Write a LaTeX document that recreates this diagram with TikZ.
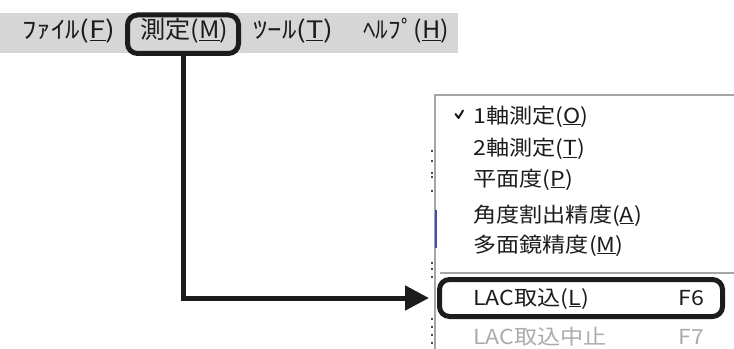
\documentclass[tikz,border=0pt]{standalone}
\usepackage{fontspec}
\newfontfamily\barfont[FakeStretch=1.05]{Noto Sans CJK JP}
\newfontfamily\barkana[FakeStretch=1.2]{Noto Sans CJK JP}
\newfontfamily\itemfont[FakeStretch=1.12]{Noto Sans CJK JP}
\usetikzlibrary{arrows.meta}
\definecolor{bargray}{HTML}{D6D6D6}
\definecolor{inkblack}{HTML}{1C1C1C}
\definecolor{framegray}{HTML}{A6A6A6}
\definecolor{disabled}{HTML}{ABABAB}
\definecolor{selblue}{HTML}{3C4FB4}
\newcommand\acckey[1]{\leavevmode\setbox0\hbox{#1}\rlap{\rule[-1.3pt]{\wd0}{0.9pt}}\box0}
\tikzset{
  bartext/.style={anchor=base west, inner sep=0pt, text=inkblack,
    font=\barfont\fontsize{18pt}{20pt}\selectfont},
  kanatext/.style={bartext, font=\barkana\fontsize{18pt}{20pt}\selectfont},
  itemtext/.style={anchor=base west, inner sep=0pt, text=inkblack,
    font=\itemfont\fontsize{15.5pt}{18pt}\selectfont},
  hbox/.style={draw=inkblack, line width=3.75pt, rounded corners=7.5pt,
    inner sep=0pt},
  conn/.style={draw=inkblack, line width=3.75pt,
    -{Triangle[length=18pt,width=18pt]}, shorten >=6pt},
}
\begin{document}
\begin{tikzpicture}[x=0.75pt,y=-0.75pt]
\useasboundingbox (0,0) rectangle (734,349);
% menu bar
\fill[bargray] (0,13) rectangle (458,53);
\node[kanatext] (file) at (22,39) {ﾌｧｲﾙ(\acckey{F})};
\node[bartext] (meas) at (140,39) {測定(\acckey{M})};
\node[kanatext] (tool) at (253,39) {ﾂｰﾙ(\acckey{T})};
\node[bartext] (help) at (363,39) {ﾍﾙﾌﾟ(\acckey{H})};
% popup menu frame
\draw[framegray, line width=1.2pt] (435,349) -- (435,95) -- (734,95);
\fill[selblue] (434.5,210) rectangle (437,248);
\foreach \yy in {150,160,172,176,190,262,268,276,318,326,334,342}
  \fill[inkblack!80] (431,\yy) rectangle (433,\yy+2);
% check mark
\draw[inkblack, line width=1.5pt, line cap=round, line join=round]
  (455.5,114) -- (458.5,118) -- (463,110.5);
% items
\node[itemtext] (i1) at (473,123) {1軸測定(\acckey{O})};
\node[itemtext] (i2) at (473,156) {2軸測定(\acckey{T})};
\node[itemtext] (i3) at (473,186) {平面度(\acckey{P})};
\node[itemtext] (i4) at (473,222) {角度割出精度(\acckey{A})};
\node[itemtext] (i5) at (473,252) {多面鏡精度(\acckey{M})};
\draw[framegray, line width=1.2pt] (440,273) -- (734,273);
\node[itemtext] (i6) at (473,305) {LAC取込(\acckey{L})};
\node[itemtext] (k6) at (678,305) {F6};
\node[itemtext, text=disabled] (i7) at (473,344) {LAC取込中止};
\node[itemtext, text=disabled] (k7) at (678,344) {F7};
% highlight boxes
\node[hbox, minimum width=0.75pt*111, minimum height=0.75pt*38.5]
  (mbox) at (183,34.25) {};
\node[hbox, minimum width=0.75pt*283, minimum height=0.75pt*37]
  (lbox) at (581,298) {};
% connector
\draw[conn] (mbox.south) |- (lbox.west);
\end{tikzpicture}
\end{document}
